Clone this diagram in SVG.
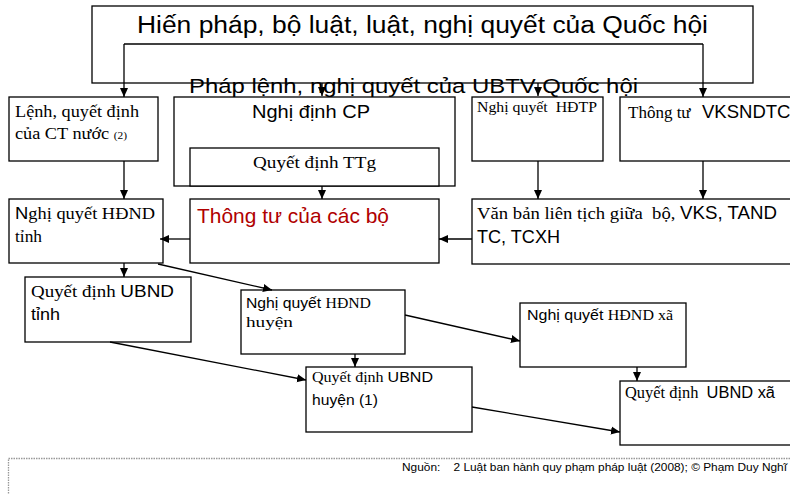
<svg xmlns="http://www.w3.org/2000/svg" width="790" height="494" viewBox="0 0 790 494">
<style>
.b{fill:#fff;stroke:#000;stroke-width:1.3}
.c{fill:none;stroke:#000;stroke-width:1.3}
.s{font-family:"Liberation Sans",Arial,sans-serif;fill:#000;white-space:pre}
.t{font-family:"Liberation Serif","Times New Roman",serif;fill:#000;white-space:pre}
.a{font-family:"Liberation Sans",Arial,sans-serif}
.r{font-family:"Liberation Serif","Times New Roman",serif}
</style>
<defs>
<marker id="ah" markerUnits="userSpaceOnUse" markerWidth="10" markerHeight="10" viewBox="0 0 10 10" refX="9" refY="5" orient="auto">
<path d="M0,1 L9,5 L0,9 Z" fill="#000"/>
</marker>
</defs>
<rect width="790" height="494" fill="#fff"/>
<rect x="8.5" y="458.5" width="800" height="60" fill="none" stroke="#999" stroke-width="1.3" stroke-dasharray="1.5,1"/>
<g id="n-quochoi">
<rect class="b" x="92" y="6" width="661" height="77"/>
<text class="s" x="137" y="33" font-size="23" textLength="571" lengthAdjust="spacingAndGlyphs">Hiến pháp, bộ luật, luật, nghị quyết của Quốc hội</text>
</g>
<g id="n-lenh">
<rect class="b" x="9" y="97" width="149" height="64"/>
<text class="t" x="15" y="117" font-size="16" textLength="124" lengthAdjust="spacingAndGlyphs">Lệnh, quyết định</text>
<text class="t" x="15" y="139" font-size="16" textLength="112" lengthAdjust="spacingAndGlyphs">của CT nước <tspan font-size="10">(2)</tspan></text>
</g>
<g id="n-nghidinh">
<rect class="b" x="174" y="97" width="281" height="89"/>
<text class="s" x="252" y="118" font-size="19" textLength="118" lengthAdjust="spacingAndGlyphs">Nghị định CP</text>
</g>
<g id="n-ttg">
<rect class="b" x="190" y="148" width="249" height="38"/>
<text class="t" x="253" y="168" font-size="17" textLength="123" lengthAdjust="spacingAndGlyphs">Quyết định TTg</text>
</g>
<g id="n-hdtp">
<rect class="b" x="472" y="97" width="131" height="64"/>
<text class="t" x="477" y="112" font-size="14" textLength="120" lengthAdjust="spacingAndGlyphs">Nghị quyết  HĐTP</text>
</g>
<g id="n-vksndtc">
<rect class="b" x="620" y="97" width="190" height="64"/>
<text class="t" x="628" y="118" font-size="17">Thông tư<tspan class="a" x="702" font-size="18.5">VKSNDTC</tspan></text>
</g>
<g id="n-ubtv">
<text class="s" x="189" y="93" font-size="21" textLength="449" lengthAdjust="spacingAndGlyphs">Pháp lệnh, nghị quyết của UBTV Quốc hội</text>
</g>
<g id="n-hdndtinh">
<rect class="b" x="9" y="199" width="154" height="64"/>
<text class="t" x="15" y="219" font-size="17" textLength="140" lengthAdjust="spacingAndGlyphs"><tspan class="a">N</tspan>ghị quyết HĐND</text>
<text class="t" x="15" y="242" font-size="17" textLength="27" lengthAdjust="spacingAndGlyphs">tỉnh</text>
</g>
<g id="n-thongtu">
<rect class="b" x="190" y="199" width="249" height="64"/>
<text x="197" y="223" font-size="21" font-family="Liberation Sans, Arial, sans-serif" fill="#b00000" textLength="192" lengthAdjust="spacingAndGlyphs">Thông tư của các bộ</text>
</g>
<g id="n-vanban">
<rect class="b" x="472" y="199" width="330" height="65"/>
<text class="t" x="477" y="219" font-size="17.5" textLength="300" lengthAdjust="spacingAndGlyphs">Văn bản liên tịch giữa  bộ, <tspan class="a">VKS, TAND</tspan></text>
<text class="s" x="477" y="243" font-size="17.5" textLength="83" lengthAdjust="spacingAndGlyphs">TC, TCXH</text>
</g>
<g id="n-ubndtinh">
<rect class="b" x="25" y="277" width="166" height="65"/>
<text class="t" x="31" y="297" font-size="17" textLength="143" lengthAdjust="spacingAndGlyphs">Quyết định <tspan class="a">UBND</tspan></text>
<text class="s" x="31" y="320" font-size="17" textLength="29" lengthAdjust="spacingAndGlyphs">tỉnh</text>
</g>
<g id="n-hdndhuyen">
<rect class="b" x="241" y="290" width="164" height="64"/>
<text class="s" x="246" y="308" font-size="15" textLength="125" lengthAdjust="spacingAndGlyphs">Nghị quyết <tspan class="r">HĐND</tspan></text>
<text class="t" x="246" y="327" font-size="15" textLength="47" lengthAdjust="spacingAndGlyphs">huyện</text>
</g>
<g id="n-hdndxa">
<rect class="b" x="520" y="303" width="166" height="64"/>
<text class="s" x="527" y="320" font-size="15" textLength="146" lengthAdjust="spacingAndGlyphs">Nghị quyết <tspan class="r">HĐND xã</tspan></text>
</g>
<g id="n-ubndhuyen">
<rect class="b" x="306" y="367" width="166" height="65"/>
<text class="t" x="312" y="382" font-size="15.5" textLength="121" lengthAdjust="spacingAndGlyphs">Quyết định <tspan class="a">UBND</tspan></text>
<text class="s" x="312" y="405" font-size="15.5" textLength="66" lengthAdjust="spacingAndGlyphs">huyện (1)</text>
</g>
<g id="n-ubndxa">
<rect class="b" x="620" y="381" width="190" height="64"/>
<text class="t" x="625" y="398" font-size="16" textLength="150" lengthAdjust="spacingAndGlyphs">Quyết định  <tspan class="a">UBND xã</tspan></text>
</g>
<g id="connectors" class="c">
<path class="c" d="M124,44 H703"/>
<path class="c" d="M124,44 V97" marker-end="url(#ah)"/>
<path class="c" d="M703,44 V97" marker-end="url(#ah)"/>
<path class="c" d="M322,83 V96" marker-end="url(#ah)"/>
<path class="c" d="M538,83 V96" marker-end="url(#ah)"/>
<path class="c" d="M124,161 V199" marker-end="url(#ah)"/>
<path class="c" d="M322,186 V199" marker-end="url(#ah)"/>
<path class="c" d="M538,161 V199" marker-end="url(#ah)"/>
<path class="c" d="M703,161 V199" marker-end="url(#ah)"/>
<path class="c" d="M190,239 H160" marker-end="url(#ah)"/>
<path class="c" d="M472,239 H439" marker-end="url(#ah)"/>
<path class="c" d="M124,263 V277" marker-end="url(#ah)"/>
<path class="c" d="M158,264 L272,290" marker-end="url(#ah)"/>
<path class="c" d="M405,315 L520,341" marker-end="url(#ah)"/>
<path class="c" d="M355,354 V367" marker-end="url(#ah)"/>
<path class="c" d="M110,342 L306,380" marker-end="url(#ah)"/>
<path class="c" d="M637,367 V381" marker-end="url(#ah)"/>
<path class="c" d="M472,407 L620,432" marker-end="url(#ah)"/>
</g>
<text class="s" x="402" y="471" font-size="11" fill="#222" textLength="385" lengthAdjust="spacingAndGlyphs">Nguồn:    2 Luật ban hành quy phạm pháp luật (2008); © Phạm Duy Nghĩ</text>
</svg>
